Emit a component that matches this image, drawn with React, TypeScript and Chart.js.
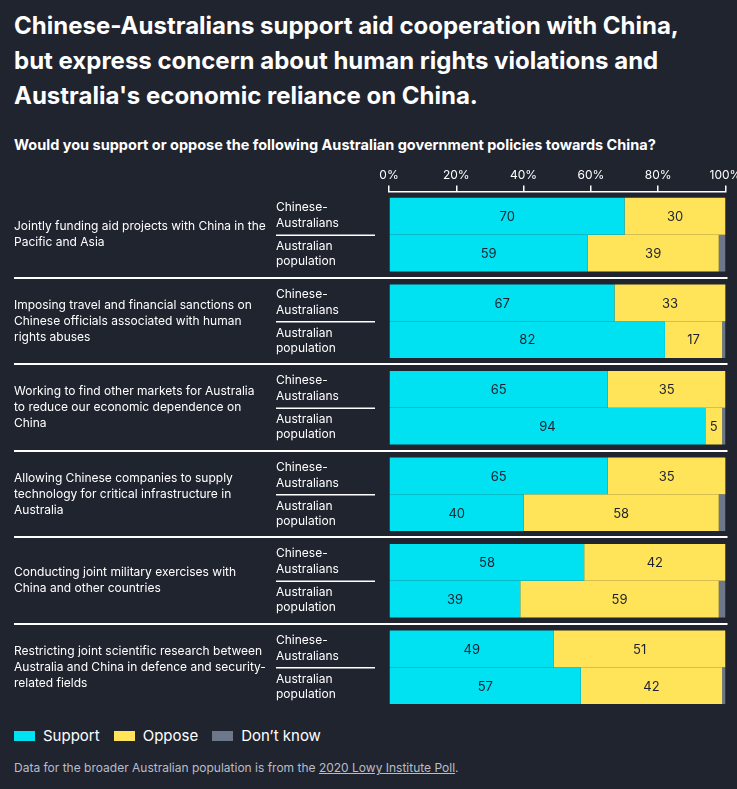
import React, { useEffect, useRef } from "react";
import { Chart, registerables } from "chart.js";

Chart.register(...registerables);

const questions: string[][] = [
  ["Jointly funding aid projects with China in the", "Pacific and Asia"],
  ["Imposing travel and financial sanctions on", "Chinese officials associated with human", "rights abuses"],
  ["Working to find other markets for Australia", "to reduce our economic dependence on", "China"],
  ["Allowing Chinese companies to supply", "technology for critical infrastructure in", "Australia"],
  ["Conducting joint military exercises with", "China and other countries"],
  ["Restricting joint scientific research between", "Australia and China in defence and security-", "related fields"],
];
const groupLabelTop = ["Chinese-", "Australians"];
const groupLabelBottom = ["Australian", "population"];

const cnSupport = [70, 67, 65, 65, 58, 49];
const cnOppose = [30, 33, 35, 35, 42, 51];
const cnDontKnow = [0, 0.5, 0, 0.5, 0, 0];
const auSupport = [59, 82, 94, 40, 39, 57];
const auOppose = [39, 17, 5, 58, 59, 42];
const auDontKnow = [2, 1, 1, 2, 2, 1];

const tickValues = [0, 20, 40, 60, 80, 100];

const BG = "#20242f";
const CYAN = "#00e1f1";
const YELLOW = "#ffe459";
const GRAY = "#6c778a";
const FONT = "Inter, Roboto, 'Noto Sans', sans-serif";

export default function App() {
  const ref = useRef<HTMLCanvasElement | null>(null);

  useEffect(() => {
    if (!ref.current) return;
    const labelsPlugin = {
      id: "customLabels",
      afterDatasetsDraw(chart: any) {
        const ctx = chart.ctx;
        ctx.save();
        ctx.font = `13px ${FONT}`;
        ctx.fillStyle = "#1d2230";
        ctx.textAlign = "center";
        ctx.textBaseline = "middle";
        chart.data.datasets.forEach((ds: any, di: number) => {
          if (ds.label === "Don't know") return;
          const meta = chart.getDatasetMeta(di);
          meta.data.forEach((el: any, i: number) => {
            const v = ds.data[i];
            if (v < 3) return;
            const p = el.getProps(["x", "y", "base"], true);
            ctx.fillText(String(v), (p.x + p.base) / 2, p.y + 1);
          });
        });
        ctx.restore();
      },
      afterDraw(chart: any) {
        const ctx = chart.ctx;
        const y = chart.scales.y;
        const area = chart.chartArea;
        ctx.save();
        ctx.fillStyle = "#ffffff";
        ctx.textAlign = "left";
        ctx.textBaseline = "middle";
        ctx.font = `12px ${FONT}`;
        const pitch = y.getPixelForValue(1) - y.getPixelForValue(0);
        questions.forEach((lines, i) => {
          const c = y.getPixelForValue(i);
          const n = lines.length;
          lines.forEach((ln, k) => {
            ctx.fillText(ln, 14, c + (k - (n - 1) / 2) * 16);
          });
          ctx.fillText(groupLabelTop[0], 276, c - 27);
          ctx.fillText(groupLabelTop[1], 276, c - 11);
          ctx.fillText(groupLabelBottom[0], 276, c + 12);
          ctx.fillText(groupLabelBottom[1], 276, c + 27);
          ctx.strokeStyle = "#ffffff";
          ctx.lineWidth = 1.5;
          ctx.beginPath();
          ctx.moveTo(276, c + 0.5);
          ctx.lineTo(375, c + 0.5);
          ctx.stroke();
          if (i < questions.length - 1) {
            ctx.lineWidth = 2;
            ctx.beginPath();
            const sy = Math.round(c + pitch / 2);
            ctx.moveTo(14, sy);
            ctx.lineTo(area.right + 2, sy);
            ctx.stroke();
          }
        });
        ctx.restore();
      },
    };

    const chart = new Chart(ref.current, {
      type: "bar",
      data: {
        labels: questions.map((q) => q.join(" ")),
        datasets: [
          { label: "Support", data: cnSupport, stack: "cn", backgroundColor: CYAN },
          { label: "Oppose", data: cnOppose, stack: "cn", backgroundColor: YELLOW },
          { label: "Don't know", data: cnDontKnow, stack: "cn", backgroundColor: GRAY },
          { label: "Support", data: auSupport, stack: "au", backgroundColor: CYAN },
          { label: "Oppose", data: auOppose, stack: "au", backgroundColor: YELLOW },
          { label: "Don't know", data: auDontKnow, stack: "au", backgroundColor: GRAY },
        ],
      },
      options: {
        indexAxis: "y",
        animation: false,
        responsive: false,
        events: [],
        layout: { padding: { left: 389, right: 11.5, top: 5, bottom: 4.5 } },
        datasets: {
          bar: { categoryPercentage: 74 / 87, barPercentage: 1, borderWidth: 0 },
        },
        plugins: { legend: { display: false }, tooltip: { enabled: false } },
        scales: {
          x: {
            type: "linear",
            position: "top",
            stacked: true,
            min: 0,
            max: 100,
            afterFit: (s: any) => {
              s.paddingLeft = 0;
              s.paddingRight = 0;
            },
            afterBuildTicks: (s: any) => {
              s.ticks = tickValues.map((v) => ({ value: v }));
            },
            grid: { drawOnChartArea: false, drawTicks: true, tickLength: 6, color: "#ffffff", lineWidth: 1.5 },
            border: { display: true, color: "#ffffff", width: 1.5 },
            ticks: {
              color: "#ffffff",
              padding: 3,
              maxRotation: 0,
              autoSkip: false,
              font: { size: 12, family: FONT },
              callback: (v: any) => v + "%",
            },
          },
          y: { stacked: true, display: false },
        },
      },
      plugins: [labelsPlugin],
    } as any);
    return () => chart.destroy();
  }, []);

  const legendItems = [
    { label: "Support", color: CYAN },
    { label: "Oppose", color: YELLOW },
    { label: "Don\u2019t know", color: GRAY },
  ];

  return (
    <div style={{ position: "relative", width: 737, height: 789, background: BG, fontFamily: FONT, color: "#fff", overflow: "hidden" }}>
      <style>{`body{margin:0;background:${BG};}`}</style>
      <div style={{ position: "absolute", left: 14, top: 8, width: 700, fontSize: 24, fontWeight: 700, lineHeight: "35px" }}>
        Chinese-Australians support aid cooperation with China, but express concern about human rights violations and
        Australia's economic reliance on China.
      </div>
      <div style={{ position: "absolute", left: 14, top: 136, fontSize: 14.5, fontWeight: 700, lineHeight: "18px", whiteSpace: "nowrap" }}>
        Would you support or oppose the following Australian government policies towards China?
      </div>
      <canvas ref={ref} width={737} height={555} style={{ position: "absolute", left: 0, top: 160, width: 737, height: 555 }} />
      <div style={{ position: "absolute", left: 14, top: 726, display: "flex", alignItems: "center", fontSize: 15, lineHeight: "20px" }}>
        {legendItems.map((it) => (
          <div key={it.label} style={{ display: "flex", alignItems: "center", marginRight: 14 }}>
            <span style={{ display: "inline-block", width: 21, height: 10, background: it.color, marginRight: 8 }} />
            <span>{it.label}</span>
          </div>
        ))}
      </div>
      <div style={{ position: "absolute", left: 14, top: 760, fontSize: 12, lineHeight: "16px", color: "#b9bdc7", whiteSpace: "nowrap" }}>
        Data for the broader Australian population is from the <span style={{ textDecoration: "underline" }}>2020 Lowy Institute Poll</span>.
      </div>
    </div>
  );
}
